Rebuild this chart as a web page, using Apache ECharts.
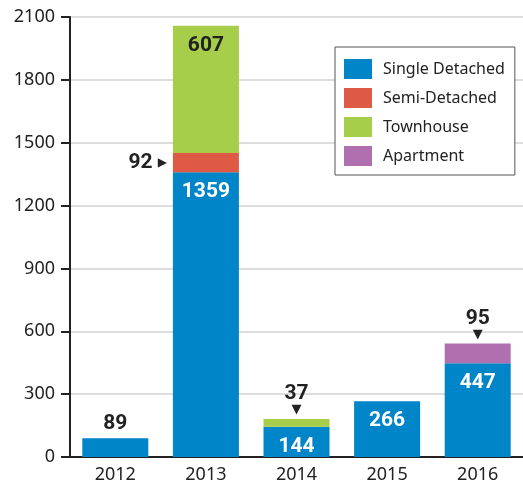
<!DOCTYPE html>
<html>
<head>
    <meta charset="utf-8">
    <title>ECharts</title>
    <script src="https://cdn.jsdelivr.net/npm/echarts@6/dist/echarts.min.js"></script>
</head>
<body style="margin:0;">
    <div id="main" style="width:523px;height:494px;"></div>
    <script type="text/javascript">
        // data
        var years = ['2012', '2013', '2014', '2015', '2016'];
        var singleDetached = [89, 1359, 144, 266, 447];
        var semiDetached = [0, 92, 0, 0, 0];
        var townhouse = [0, 607, 37, 0, 0];
        var apartment = [0, 0, 0, 0, 95];
        var yTicks = [0, 300, 600, 900, 1200, 1500, 1800, 2100];

        var numFont = 'Roboto, sans-serif';
        var tickFont = '"Noto Sans", sans-serif';

        var myChart = echarts.init(document.getElementById('main'));

        // label config for each bar piece
        function pieceLabel(name, v) {
            if (!v) return {show: false};
            if (name === 'Semi-Detached') {
                return {
                    show: true, position: 'left', distance: 6,
                    formatter: '{v|' + v + '}{t|▶}',
                    rich: {
                        v: {fontFamily: numFont, fontWeight: 'bold', fontSize: 21, color: '#222', padding: [0, 5, 0, 0]},
                        t: {fontFamily: 'DejaVu Sans', fontSize: 12, color: '#222'}
                    }
                };
            }
            if (name === 'Single Detached' && v > 120 || name === 'Townhouse' && v > 200) {
                return {
                    show: true, position: 'insideTop', distance: 9,
                    fontFamily: numFont, fontWeight: 'bold', fontSize: 21,
                    color: name === 'Single Detached' ? '#fff' : '#222'
                };
            }
            if (name === 'Single Detached') {
                return {
                    show: true, position: 'top', distance: 4,
                    fontFamily: numFont, fontWeight: 'bold', fontSize: 21, color: '#222'
                };
            }
            return {
                show: true, position: 'top', distance: 3,
                formatter: '{v|' + v + '}\n{t|▼}',
                rich: {
                    v: {fontFamily: numFont, fontWeight: 'bold', fontSize: 21, color: '#222', lineHeight: 20},
                    t: {fontFamily: 'DejaVu Sans', fontSize: 13, color: '#222', lineHeight: 12}
                }
            };
        }

        function makeSeries(name, values, color) {
            return {
                name: name,
                type: 'bar',
                stack: 'total',
                barWidth: 66,
                itemStyle: {color: color},
                data: values.map(function (v) {
                    return {value: v, label: pieceLabel(name, v)};
                })
            };
        }

        var option = {
            animation: false,
            grid: {left: 70, top: 17, bottom: 37, width: 459},
            legend: {
                orient: 'vertical',
                left: 335, top: 47,
                padding: [12, 10, 9, 9],
                itemWidth: 28, itemHeight: 20, itemGap: 9,
                icon: 'rect',
                borderColor: '#555', borderWidth: 1,
                backgroundColor: '#fff',
                textStyle: {fontFamily: tickFont, fontSize: 16, color: '#222', padding: [0, 0, 0, 6]},
                data: ['Single Detached', 'Semi-Detached', 'Townhouse', 'Apartment']
            },
            xAxis: {
                type: 'category',
                data: years,
                axisLine: {lineStyle: {color: '#222', width: 2}},
                axisTick: {length: 10, lineStyle: {color: '#222', width: 2}},
                axisLabel: {fontFamily: tickFont, fontSize: 18, color: '#222', margin: 9}
            },
            yAxis: {
                type: 'value',
                min: yTicks[0], max: yTicks[yTicks.length - 1], interval: 300,
                axisLine: {show: true, lineStyle: {color: '#222', width: 2}},
                axisTick: {show: true, length: 9, lineStyle: {color: '#222', width: 2}},
                axisLabel: {
                    fontFamily: tickFont, fontSize: 18, color: '#222', margin: 15,
                    formatter: function (v) { return String(v); }
                },
                splitLine: {lineStyle: {color: '#ddd', width: 2}}
            },
            series: [
                makeSeries('Single Detached', singleDetached, '#0085c8'),
                makeSeries('Semi-Detached', semiDetached, '#de5a44'),
                makeSeries('Townhouse', townhouse, '#a7ce4b'),
                makeSeries('Apartment', apartment, '#b070b0')
            ]
        };

        myChart.setOption(option);
    </script>
</body>
</html>
